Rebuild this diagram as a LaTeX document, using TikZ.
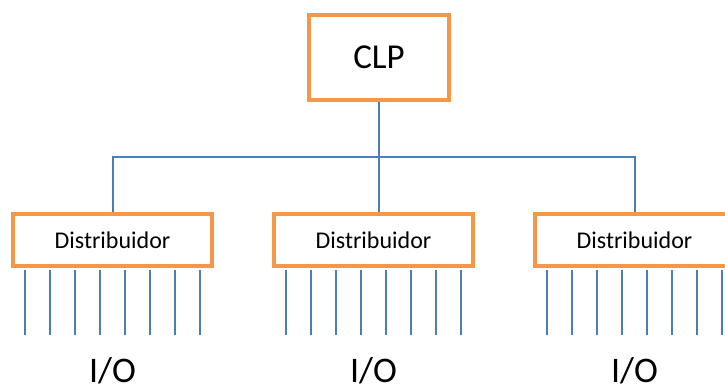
\documentclass[tikz,border=0pt]{standalone}
\usepackage{fontspec}
\setmainfont{Carlito}
\usetikzlibrary{positioning}
\definecolor{boxorange}{HTML}{F79646}
\definecolor{wireblue}{HTML}{4A7EBB}

\begin{document}
\begin{tikzpicture}[x=1pt, y=-1pt, node distance=261pt,
    caixa/.style={draw=boxorange, line width=4pt, fill=white, minimum width=199pt, minimum height=52pt, font=\fontsize{24}{28}\selectfont},
    fio/.style={draw=wireblue, line width=2pt},
    rotulo/.style={font=\fontsize{36}{40}\selectfont}]
    \useasboundingbox (0,0) rectangle (725,389);
    \node[caixa, minimum width=140pt, minimum height=85pt, font=\fontsize{35}{40}\selectfont] (clp) at (379,57.5) {CLP};
    \node[caixa] (d1) at (112.5,240) {Distribuidor};
    \node[caixa] (d2) [right of=d1] {Distribuidor};
    \node[caixa] (d3) [right of=d2] {Distribuidor};

    \coordinate (barra) at (379,157);
    \draw[fio] (clp.south) -- (clp.south |- d2.north);
    \draw[fio] (d1.north) -- (d1.north |- barra) -- (d3.north |- barra) -- (d3.north);

    % entradas e saidas
    \foreach \d in {d1,d2,d3} {
      \foreach \i in {0,...,7} {
        \coordinate (\d-p\i) at ([xshift=-87.5pt+\i*25pt, yshift=-2pt]\d.south);
        \draw[fio, line width=2.5pt] (\d-p\i) -- ++(0,65);
      }
      \path (\d) ++(0,131) node[rotulo] (\d-io) {I/O};
    }
  \end{tikzpicture}
\end{document}
